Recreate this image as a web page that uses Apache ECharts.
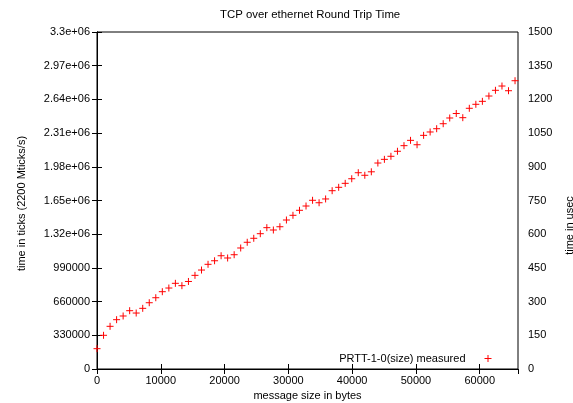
<!DOCTYPE html>
<html>
<head>
<meta charset="utf-8">
<script src="https://cdn.jsdelivr.net/npm/echarts@6/dist/echarts.min.js"></script>
<style>html,body{margin:0;padding:0;background:#fff}#c{width:573px;height:403px}</style>
</head>
<body>
<div id="c"></div>
<script>
// message sizes in bytes (step 1024)
const sizes = [0,1024,2048,3072,4096,5120,6144,7168,8192,9216,10240,11264,12288,13312,14336,15360,16384,17408,18432,19456,20480,21504,22528,23552,24576,25600,26624,27648,28672,29696,30720,31744,32768,33792,34816,35840,36864,37888,38912,39936,40960,41984,43008,44032,45056,46080,47104,48128,49152,50176,51200,52224,53248,54272,55296,56320,57344,58368,59392,60416,61440,62464,63488,64512,65536];
// measured round trip time in ticks
const ticks = [199000,330000,418000,483000,519000,571000,548000,594000,649000,698000,757000,793000,839000,816000,857000,917000,969000,1025000,1060000,1109000,1087000,1119000,1185000,1241000,1280000,1325000,1384000,1361000,1393000,1459000,1505000,1554000,1596000,1652000,1628000,1665000,1746000,1779000,1818000,1863000,1922000,1897000,1931000,2017000,2053000,2083000,2132000,2187000,2239000,2196000,2288000,2321000,2353000,2402000,2458000,2502000,2461000,2553000,2592000,2621000,2673000,2729000,2771000,2725000,2823000];
const leftTickLabels = ['0','330000','660000','990000','1.32e+06','1.65e+06','1.98e+06','2.31e+06','2.64e+06','2.97e+06','3.3e+06'];
const rightTickLabels = ['0','150','300','450','600','750','900','1050','1200','1350','1500'];
const xTickLabels = ['0','10000','20000','30000','40000','50000','60000'];

const plus = 'path://M0,5H10M5,0V10';
const font = 'Liberation Sans';
const fs = 11;
const chart = echarts.init(document.getElementById('c'));
chart.setOption({
  animation: false,
  textStyle: {fontFamily: font},
  title: {
    text: 'TCP over ethernet Round Trip Time',
    left: 215, top: 4,
    textStyle: {fontSize: 11.4, fontWeight: 'normal', color: '#000', fontFamily: font}
  },
  legend: {
    data: [{name: 'PRTT-1-0(size) measured', icon: plus}],
    right: 76, top: 348,
    align: 'right',
    itemWidth: 7, itemHeight: 7,
    itemStyle: {color: 'rgba(0,0,0,0)', borderColor: '#ff0000', borderWidth: 1},
    textStyle: {fontSize: fs, color: '#000', fontFamily: font, padding: [0, 14, 0, 0]}
  },
  grid: {left: 97, right: 55, top: 32, bottom: 34, show: true, borderColor: '#000', borderWidth: 1, containLabel: false, outerBoundsMode: 'none'},
  xAxis: [{
    type: 'value', min: 0, max: 66000, interval: 10000,
    name: 'message size in bytes', nameLocation: 'middle', nameGap: 21,
    nameTextStyle: {fontSize: fs, color: '#000', fontFamily: font},
    axisLine: {show: true, lineStyle: {color: '#000'}},
    axisTick: {show: true, inside: true, length: 5, lineStyle: {color: '#000'}},
    axisLabel: {color: '#000', fontSize: fs, fontFamily: font, margin: 6, showMaxLabel: false,
      formatter: (v) => xTickLabels[Math.round(v / 10000)] ?? ''},
    splitLine: {show: false}
  }, {
    type: 'value', position: 'top', min: 0, max: 66000, interval: 10000,
    axisLine: {show: true, lineStyle: {color: '#000'}},
    axisTick: {show: true, inside: true, length: 5, lineStyle: {color: '#000'}},
    axisLabel: {show: false}, splitLine: {show: false}
  }],
  yAxis: [{
    type: 'value', min: 0, max: 3300000, interval: 330000,
    name: 'time in ticks (2200 Mticks/s)', nameLocation: 'middle', nameGap: 70, nameRotate: 90,
    nameTextStyle: {fontSize: fs, color: '#000', fontFamily: font, padding: [0, 6, 0, 0]},
    axisLine: {show: true, lineStyle: {color: '#000'}},
    axisTick: {show: true, inside: true, length: 5, lineStyle: {color: '#000'}},
    axisLabel: {color: '#000', fontSize: fs, fontFamily: font, margin: 7,
      formatter: (v) => leftTickLabels[Math.round(v / 330000)] ?? ''},
    splitLine: {show: false}
  }, {
    type: 'value', position: 'right', min: 0, max: 1500, interval: 150,
    name: 'time in usec', nameLocation: 'middle', nameGap: 46, nameRotate: 90,
    nameTextStyle: {fontSize: fs, color: '#000', fontFamily: font, padding: [0, 50, 0, 0]},
    axisLine: {show: true, lineStyle: {color: '#000'}},
    axisTick: {show: true, inside: true, length: 5, lineStyle: {color: '#000'}},
    axisLabel: {color: '#000', fontSize: fs, fontFamily: font, margin: 10,
      formatter: (v) => rightTickLabels[Math.round(v / 150)] ?? ''},
    splitLine: {show: false}
  }],
  series: [{
    name: 'PRTT-1-0(size) measured',
    type: 'scatter',
    xAxisIndex: 0, yAxisIndex: 0,
    symbol: plus, symbolSize: 7,
    itemStyle: {color: 'rgba(0,0,0,0)', borderColor: '#ff0000', borderWidth: 1, opacity: 1},
    clip: false,
    data: sizes.map((s, i) => [s, ticks[i]])
  }]
});
</script>
</body>
</html>
